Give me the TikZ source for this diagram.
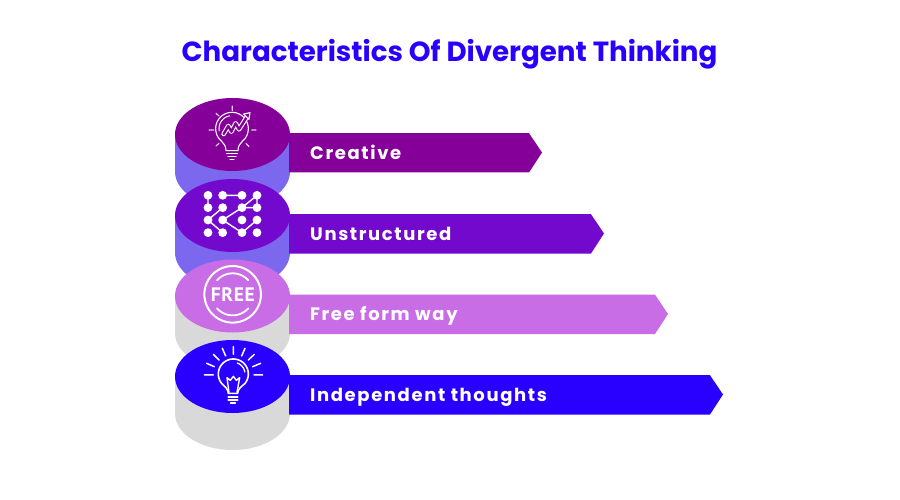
\documentclass[tikz,border=0pt]{standalone}
\usepackage{fontspec}
\setmainfont{Poppins}
\newfontfamily\labfont[LetterSpace=9]{Poppins}
\newfontfamily\freefont[LetterSpace=3]{PT Sans}
\usetikzlibrary{shapes.geometric}
\definecolor{cTitle}{HTML}{2900FF}
\definecolor{cOne}{HTML}{850099}
\definecolor{cTwo}{HTML}{7209CC}
\definecolor{cThree}{HTML}{C86DE6}
\definecolor{cFour}{HTML}{2900FF}
\definecolor{cSideA}{HTML}{7B68EE}
\definecolor{cSideB}{HTML}{D9D9D9}
\tikzset{
  capshape/.style={ellipse,minimum width=115pt,minimum height=73pt,inner sep=0pt,outer sep=0pt,fill=#1},
  barlabel/.style={anchor=base west,text=white,inner sep=0pt,font=\labfont\bfseries\fontsize{18}{20}\selectfont},
  titletext/.style={anchor=base,text=cTitle,inner sep=0pt,font=\bfseries\fontsize{27.7}{30}\selectfont},
  ico/.style={draw=white,line cap=round,line join=round,fill=none},
  zoomA/.style={shift={(165,90)},x=0.3333pt,y=-0.3333pt},
  zoomB/.style={shift={(165,255)},x=0.3333pt,y=-0.3333pt}
}
% #1 centre y, #2 body colour, #3 bar colour, #4 bar end x, #5 name
\newcommand{\stackitem}[5]{%
  \node[capshape=#2] (base#5) at (232.5,#1+37) {};
  \fill[#2] (232.5-57.5,#1) rectangle (232.5+57.5,#1+37);
  \fill[#3] (289,#1-1.3) -- (#4,#1-1.3) -- (#4+13,#1+18) -- (#4,#1+38) -- (289,#1+38) -- cycle;
  \node[capshape=#3] (cap#5) at (232.5,#1) {};
}
\newcommand{\zarc}[5]{plot[domain=#4:#5,samples=40] ({#1+#3*cos(\x)},{#2-#3*sin(\x)})}
\begin{document}
\begin{tikzpicture}[x=1pt,y=-1pt]
\useasboundingbox (0,0) rectangle (900,500);
\fill[white] (0,0) rectangle (900,500);
\node[titletext] (title) at (449.5,61.5) {Characteristics Of Divergent Thinking};

\stackitem{134.5}{cSideA}{cOne}{529}{One}
\node[barlabel] (labOne) at (310,159.4) {Creative};
\begin{scope}[zoomA]
  \draw[ico,line width=1.1pt] \zarc{201}{116}{49}{-50}{230};
  \draw[ico,line width=1.1pt] (169.5,153.5) .. controls (177,161) and (183,168) .. (183,182) -- (219,182) .. controls (219,168) and (225,161) .. (232.5,153.5);
  \draw[ico,line width=1.1pt] (185,191) -- (217,191) (189,200) -- (213,200) (195,209) -- (207,209);
  \draw[ico,line width=1pt] \zarc{201}{116}{39}{100}{190};
  \draw[ico,line width=1.2pt,opacity=0.8] (202,48) -- (202,62) (132,120) -- (146,120) (260,120) -- (273,120) (153,70) -- (162,78) (153,168) -- (162,160) (243,160) -- (252,170);
  \draw[ico,line width=4.6pt] (176,132) -- (190,108) -- (199,125) -- (212,100) -- (222,118) -- (245,82);
  \draw[draw=cOne,line width=2.4pt,line cap=round,line join=round] (176,132) -- (190,108) -- (199,125) -- (212,100) -- (222,118) -- (245,82);
  \draw[ico,line width=1.1pt,fill=cOne] (236,72) -- (255,68) -- (252,88) -- cycle;
\end{scope}

\stackitem{215.5}{cSideA}{cTwo}{591}{Two}
\node[barlabel] (labTwo) at (310,240.6) {Unstructured};
\begin{scope}[zoomA]
  \draw[ico,line width=1.4pt] (129,316) -- (129,353) (173,316) -- (231,316) (129,390) -- (173,353) (129,390) -- (173,428)
    (173,390) -- (231,353) -- (276,316) -- (276,353) -- (231,353) (173,390) -- (231,428) -- (276,390);
  \foreach \cx in {129,173,231,276}
    \foreach \cy in {316,353,390,428}
      \fill[white] (\cx,\cy) circle[radius=4.4pt];
\end{scope}

\stackitem{296}{cSideB}{cThree}{655}{Three}
\node[barlabel] (labThree) at (310,320.6) {Free form way};
\begin{scope}[zoomB]
  \draw[ico,line width=2pt] \zarc{203}{118}{85}{0}{360};
  \draw[ico,line width=1.8pt] \zarc{203}{118}{63}{42}{138};
  \draw[ico,line width=1.8pt] \zarc{203}{118}{63}{222}{318};
  \node[text=white,inner sep=0pt,font=\freefont\bfseries\fontsize{19.5}{20}\selectfont] (freeword) at (203.5,118) {FREE};
\end{scope}

\stackitem{376.5}{cSideB}{cFour}{710}{Four}
\node[barlabel] (labFour) at (310,401.6) {Independent thoughts};
\begin{scope}[zoomB]
  \draw[ico,line width=1.5pt] (205,275) -- (205,298) (118,360) -- (145,360) (267,360) -- (293,360)
    (125,325) -- (148,335) (145,298) -- (162,315) (172,280) -- (182,303)
    (240,280) -- (230,303) (268,298) -- (250,315) (287,325) -- (263,335);
  \draw[ico,line width=1.6pt] \zarc{205}{357}{45}{-40}{220};
  \draw[ico,line width=1.6pt] (170.5,386) .. controls (180,395) and (190,403) .. (190,415) -- (218,415) .. controls (218,403) and (228,395) .. (239.5,386);
  \draw[ico,line width=1.7pt] (190,425) -- (218,425) (190,435) -- (218,435) (197,445) -- (211,445);
  \draw[ico,line width=1.4pt] (192,412) -- (186,368) -- (196,376) -- (205,364) -- (214,376) -- (224,368) -- (216,412);
  \draw[ico,line width=1.3pt] \zarc{205}{357}{35}{10}{70};
\end{scope}
\end{tikzpicture}
\end{document}
